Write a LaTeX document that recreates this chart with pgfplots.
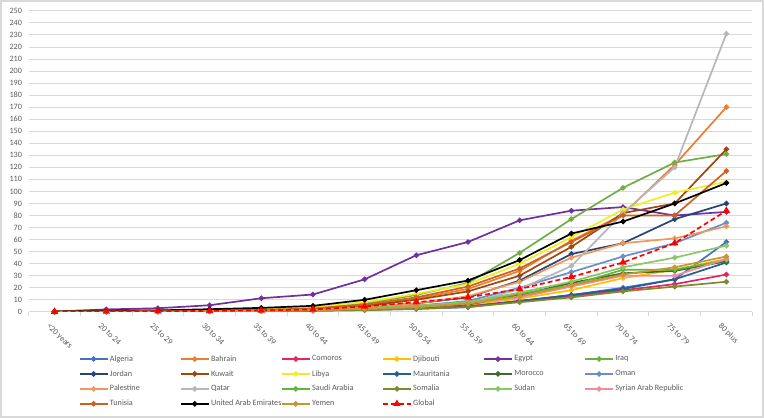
\documentclass[border=0pt]{standalone}
\usepackage{pgfplots}
\pgfplotsset{compat=1.18}
\usepackage{pgfplotstable}
\usepackage{fontspec}
\setmainfont{Carlito}
\definecolor{cAlg}{HTML}{4472C4}
\definecolor{cBah}{HTML}{ED7D31}
\definecolor{cCom}{HTML}{E8245F}
\definecolor{cDji}{HTML}{FFC000}
\definecolor{cEgy}{HTML}{7030A0}
\definecolor{cIrq}{HTML}{70AD47}
\definecolor{cJor}{HTML}{264478}
\definecolor{cKuw}{HTML}{9E480E}
\definecolor{cLib}{HTML}{EEEE22}
\definecolor{cMau}{HTML}{255E91}
\definecolor{cMor}{HTML}{43682B}
\definecolor{cOma}{HTML}{698ED0}
\definecolor{cPal}{HTML}{F1975A}
\definecolor{cQat}{HTML}{B7B7B7}
\definecolor{cSau}{HTML}{5DB83A}
\definecolor{cSom}{HTML}{7E8A2E}
\definecolor{cSud}{HTML}{8CC56A}
\definecolor{cSyr}{HTML}{F08C9E}
\definecolor{cTun}{HTML}{D2601E}
\definecolor{cUAE}{HTML}{000000}
\definecolor{cYem}{HTML}{C9962D}
\definecolor{cGlo}{HTML}{FF0000}
\definecolor{gridc}{HTML}{D9D9D9}
\definecolor{labc}{HTML}{595959}
\pgfplotstableread{
x Alg Bah Com Dji Egy Irq Jor Kuw Lib Mau Mor Oma Pal Qat Sau Som Sud Syr Tun UAE Yem Glo
0 0.2 0.2 0.1 0.1 0.3 0.3 0.2 0.2 0.3 0.1 0.1 0.2 0.2 0.1 0.2 0.1 0.2 0.1 0.2 0.3 0.1 0.2
1 0.4 0.5 0.3 0.3 2.0 0.6 0.4 0.5 0.7 0.2 0.3 0.4 0.4 0.3 0.4 0.2 0.4 0.3 0.5 1.0 0.3 0.4
2 0.5 0.7 0.4 0.5 3.0 0.9 0.6 0.7 1.0 0.3 0.5 0.6 0.6 0.5 0.6 0.3 0.6 0.5 0.8 1.2 0.5 0.5
3 0.7 1.0 0.6 0.7 5.5 1.2 0.9 1.0 1.5 0.5 0.7 0.8 0.9 0.7 0.8 0.5 0.8 0.7 1.1 2.2 0.7 0.8
4 1.0 1.5 0.8 1.0 11.3 2.0 1.3 1.5 2.5 0.7 1.0 1.2 1.3 1.0 1.2 0.7 1.2 1.0 1.7 3.3 1.0 1.2
5 1.5 2.5 1.2 1.5 14.4 3.0 2.0 2.5 4.0 1.0 1.5 2.0 2.0 1.5 1.8 1.0 1.8 1.5 2.8 5.0 1.5 2.0
6 2.0 5.0 1.8 2.5 27 7 4 5 8 1.5 2.5 3 4 2.5 3 1.5 3 2.5 6 10 2.5 4.5
7 3 11 3 4 47 14 7 10 15 2.5 4 5 7 4 5 2.5 5 4 12 18 4 8
8 4 19 5 6 58 24 12 17 23 4 6 9 13 7 8 4 8 7 21 26 7 12
9 9 34 9 11 76 49 26 30 40 9 14 20 25 19 15 8 16 12 36 43 13 19
10 14 59 13 18 84 77 48 54 62 14 24 33 45 38 22 12 25 21 58 65 22 29
11 20 81 18 28 87 103 57 82 85 19 32 46 57 82 35 17 37 30 80 75 31 41
12 27 122 23 35 80 124 77 90 99 27 34 57 61 120 35 21 45 30 80 90 37 57
13 58 170 31 44 83 131 90 135 108 41 42 74 71 231 43 25 55 44 117 107 46 84
}\datatable
\newcommand\legx[1]{\makebox[68.6bp][l]{#1}}
\begin{document}
\begin{tikzpicture}
\draw[gridc, line width=1.6bp, use as bounding box] (-28bp,-105.3bp) rectangle (736bp,311.7bp);
\begin{axis}[
  at={(0,0)}, anchor=south west,
  scale only axis, width=725bp, height=301.7bp,
  xmin=-0.5, xmax=13.5, ymin=0, ymax=250,
  axis x line*=bottom, axis y line*=left,
  x axis line style={gridc, line width=0.8bp, -},
  y axis line style={draw=none},
  xtick={0,...,13},
  xticklabels={<20 years,20 to 24,25 to 29,30 to 34,35 to 39,40 to 44,45 to 49,50 to 54,55 to 59,60 to 64,65 to 69,70 to 74,75 to 79,80 plus},
  major x tick style={draw=none},
  minor xtick={-0.5,0.5,...,13.5},
  minor x tick style={gridc, line width=0.8bp},
  minor tick length=4bp, tick align=outside,
  x tick label style={rotate=-45, anchor=north west, font=\fontsize{8.4}{9}\selectfont, text=labc, xshift=-2bp, yshift=-4bp},
  ytick={0,10,...,250},
  ymajorgrids, grid style={gridc, line width=0.8bp},
  y tick label style={font=\fontsize{8.2}{9}\selectfont, text=labc, xshift=1bp},
  yticklabel style={/pgf/number format/assume math mode=true},
  major y tick style={draw=none},
  every axis plot/.append style={line width=1.7bp, mark=*, mark size=1.8bp, solid},
  legend columns=6,
  legend cell align=left,
  legend style={draw=none, fill=none, font=\fontsize{8.2}{9}\selectfont, text=labc,
    at={(axis description cs:0,0)}, anchor=north west, xshift=50bp, yshift=-42bp,
    row sep=4.8bp, inner sep=0pt,
    nodes={inner sep=1.5bp}},
  legend image code/.code={\draw[mark repeat=2, mark phase=2] plot coordinates {(0bp,0bp)(14bp,0bp)(28bp,0bp)};},
]
\addplot[cAlg, mark options={fill=cAlg}] table[x=x,y=Alg]{\datatable}; \addlegendentry{\legx{Algeria}}
\addplot[cBah, mark options={fill=cBah}] table[x=x,y=Bah]{\datatable}; \addlegendentry{\legx{Bahrain}}
\addplot[cCom, mark options={fill=cCom}] table[x=x,y=Com]{\datatable}; \addlegendentry{\legx{Comoros}}
\addplot[cDji, mark options={fill=cDji}] table[x=x,y=Dji]{\datatable}; \addlegendentry{\legx{Djibouti}}
\addplot[cEgy, mark options={fill=cEgy}] table[x=x,y=Egy]{\datatable}; \addlegendentry{\legx{Egypt}}
\addplot[cIrq, mark options={fill=cIrq}] table[x=x,y=Irq]{\datatable}; \addlegendentry{\legx{Iraq}}
\addplot[cJor, mark options={fill=cJor}] table[x=x,y=Jor]{\datatable}; \addlegendentry{\legx{Jordan}}
\addplot[cKuw, mark options={fill=cKuw}] table[x=x,y=Kuw]{\datatable}; \addlegendentry{\legx{Kuwait}}
\addplot[cLib, mark options={fill=cLib}] table[x=x,y=Lib]{\datatable}; \addlegendentry{\legx{Libya}}
\addplot[cMau, mark options={fill=cMau}] table[x=x,y=Mau]{\datatable}; \addlegendentry{\legx{Mauritania}}
\addplot[cMor, mark options={fill=cMor}] table[x=x,y=Mor]{\datatable}; \addlegendentry{\legx{Morocco}}
\addplot[cOma, mark options={fill=cOma}] table[x=x,y=Oma]{\datatable}; \addlegendentry{\legx{Oman}}
\addplot[cPal, mark options={fill=cPal}] table[x=x,y=Pal]{\datatable}; \addlegendentry{\legx{Palestine}}
\addplot[cQat, mark options={fill=cQat}] table[x=x,y=Qat]{\datatable}; \addlegendentry{\legx{Qatar}}
\addplot[cSau, mark options={fill=cSau}] table[x=x,y=Sau]{\datatable}; \addlegendentry{\legx{Saudi Arabia}}
\addplot[cSom, mark options={fill=cSom}] table[x=x,y=Som]{\datatable}; \addlegendentry{\legx{Somalia}}
\addplot[cSud, mark options={fill=cSud}] table[x=x,y=Sud]{\datatable}; \addlegendentry{\legx{Sudan}}
\addplot[cSyr, mark options={fill=cSyr}] table[x=x,y=Syr]{\datatable}; \addlegendentry{\legx{Syrian Arab Republic}}
\addplot[cTun, mark options={fill=cTun}] table[x=x,y=Tun]{\datatable}; \addlegendentry{\legx{Tunisia}}
\addplot[cUAE, mark options={fill=cUAE}] table[x=x,y=UAE]{\datatable}; \addlegendentry{\legx{United Arab Emirates}}
\addplot[cYem, mark options={fill=cYem}] table[x=x,y=Yem]{\datatable}; \addlegendentry{\legx{Yemen}}
\addplot[cGlo, dashed, dash pattern=on 5bp off 3bp, mark=triangle*, mark size=2.6bp, mark options={solid, fill=cGlo}] table[x=x,y=Glo]{\datatable}; \addlegendentry{\legx{Global}}
\end{axis}
\end{tikzpicture}
\end{document}
